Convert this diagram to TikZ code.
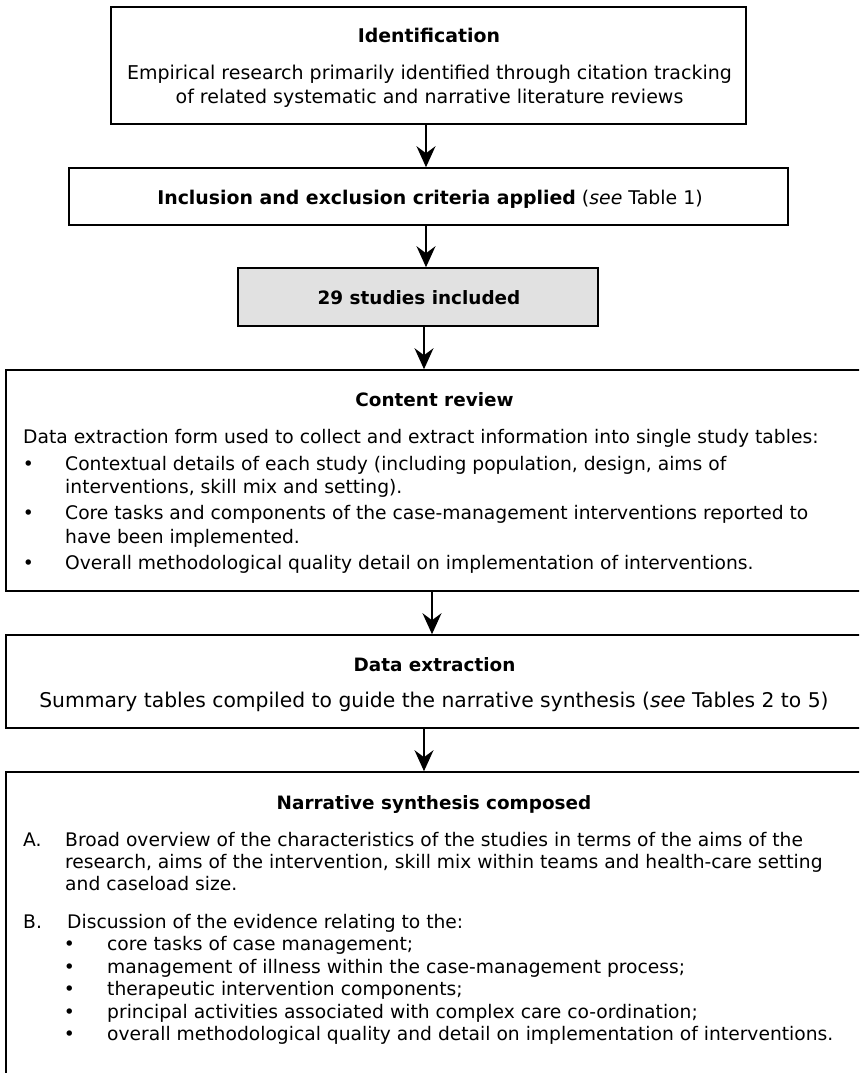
\documentclass[tikz,border=0pt]{standalone}
\usepackage{fontspec}
\setmainfont{DejaVu Sans}
\usepackage{tikz}
\usetikzlibrary{arrows.meta}
\definecolor{boxgrey}{RGB}{225,225,225}

\begin{document}
\begin{tikzpicture}[x=1pt,y=1pt]
\tikzstyle{every node}+=[inner sep=0pt, font=\fontsize{18.7}{22}\selectfont]
\tikzstyle{box}=[draw=black, line width=1.6pt, rectangle]
\tikzstyle{heading}=[anchor=base, font=\fontsize{18.4}{22}\selectfont\bfseries]
\tikzstyle{arrow}=[line width=1.5pt, -{Stealth[length=21pt,width=19pt,inset=7pt]}]
\useasboundingbox (0,0) rectangle (859,-1073);
\clip (0,0) rectangle (859,-1073);
\fill [white] (0,0) rectangle (859,-1073);
% boxes
\node [box, minimum width=635, minimum height=117] (ident) at (428.5,-65.5) {};
\node [box, minimum width=719, minimum height=57] (incl) at (428.5,-196.5) {};
\node [box, fill=boxgrey, minimum width=360, minimum height=58] (studies) at (418,-297) {};
\node [box, minimum width=857, minimum height=221] (content) at (434.5,-480.5) {};
\node [box, minimum width=857, minimum height=93] (dataext) at (434.5,-681.5) {};
\node [box, minimum width=857, minimum height=308] (synth) at (434.5,-926) {};
% identification
\node [heading, font=\fontsize{18.9}{22}\selectfont\bfseries] (identtitle) at (429,-43) {Identification};
\node [anchor=base, font=\fontsize{19}{22}\selectfont] (identlineA) at (429.5,-80) {Empirical research primarily identified through citation tracking};
\node [anchor=base, font=\fontsize{19}{22}\selectfont] (identlineB) at (429.5,-103) {of related systematic and narrative literature reviews};
% criteria
\node [anchor=base, font=\fontsize{18.9}{22}\selectfont] (incltext) at (430,-204) {\textbf{Inclusion and exclusion criteria applied} (\textit{see} Table 1)};
\node [heading] (studiestext) at (419,-304) {29 studies included};
% content review
\node [heading] (contenttitle) at (434.5,-406) {Content review};
\node [anchor=base west] (contentintro) at (23,-443) {Data extraction form used to collect and extract information into single study tables:};
\node [anchor=base] (bulletA) at (28.5,-470) {•};
\node [anchor=base west] (itemAa) at (65,-470) {Contextual details of each study (including population, design, aims of};
\node [anchor=base west] (itemAb) at (65,-493) {interventions, skill mix and setting).};
\node [anchor=base] (bulletB) at (28.5,-519) {•};
\node [anchor=base west] (itemBa) at (65,-519) {Core tasks and components of the case-management interventions reported to};
\node [anchor=base west] (itemBb) at (65,-543) {have been implemented.};
\node [anchor=base] (bulletC) at (28.5,-569) {•};
\node [anchor=base west] (itemCa) at (65,-569) {Overall methodological quality detail on implementation of interventions.};
% data extraction
\node [heading] (datatitle) at (434.5,-671) {Data extraction};
\node [anchor=base, font=\fontsize{20.3}{22}\selectfont] (datatext) at (434,-707.5) {Summary tables compiled to guide the narrative synthesis (\textit{see} Tables 2 to 5)};
% narrative synthesis
\node [heading] (synthtitle) at (434,-809) {Narrative synthesis composed};
\node [anchor=base west] (labelA) at (23,-846) {A.};
\node [anchor=base west] (partAa) at (65,-846) {Broad overview of the characteristics of the studies in terms of the aims of the};
\node [anchor=base west] (partAb) at (65,-868) {research, aims of the intervention, skill mix within teams and health-care setting};
\node [anchor=base west] (partAc) at (65,-890) {and caseload size.};
\node [anchor=base west] (labelB) at (23,-928) {B.};
\node [anchor=base west] (partB) at (67,-928) {Discussion of the evidence relating to the:};
\node [anchor=base] (dotA) at (69.5,-950) {•};
\node [anchor=base west] (topicA) at (107,-950) {core tasks of case management;};
\node [anchor=base] (dotB) at (69.5,-973) {•};
\node [anchor=base west] (topicB) at (107,-973) {management of illness within the case-management process;};
\node [anchor=base] (dotC) at (69.5,-995) {•};
\node [anchor=base west] (topicC) at (107,-995) {therapeutic intervention components;};
\node [anchor=base] (dotD) at (69.5,-1018) {•};
\node [anchor=base west] (topicD) at (107,-1018) {principal activities associated with complex care co-ordination;};
\node [anchor=base] (dotE) at (69.5,-1040) {•};
\node [anchor=base west] (topicE) at (107,-1040) {overall methodological quality and detail on implementation of interventions.};
% arrows
\draw [arrow] ([xshift=-2.5pt]ident.south) -- ([xshift=-2.5pt]incl.north);
\draw [arrow] ([xshift=-2.5pt]incl.south) -- ([xshift=8pt]studies.north);
\draw [arrow] ([xshift=6pt]studies.south) -- ([xshift=-10.5pt]content.north);
\draw [arrow] ([xshift=-2.5pt]content.south) -- ([xshift=-2.5pt]dataext.north);
\draw [arrow] ([xshift=-10.5pt]dataext.south) -- ([xshift=-10.5pt]synth.north);
\end{tikzpicture}
\end{document}
